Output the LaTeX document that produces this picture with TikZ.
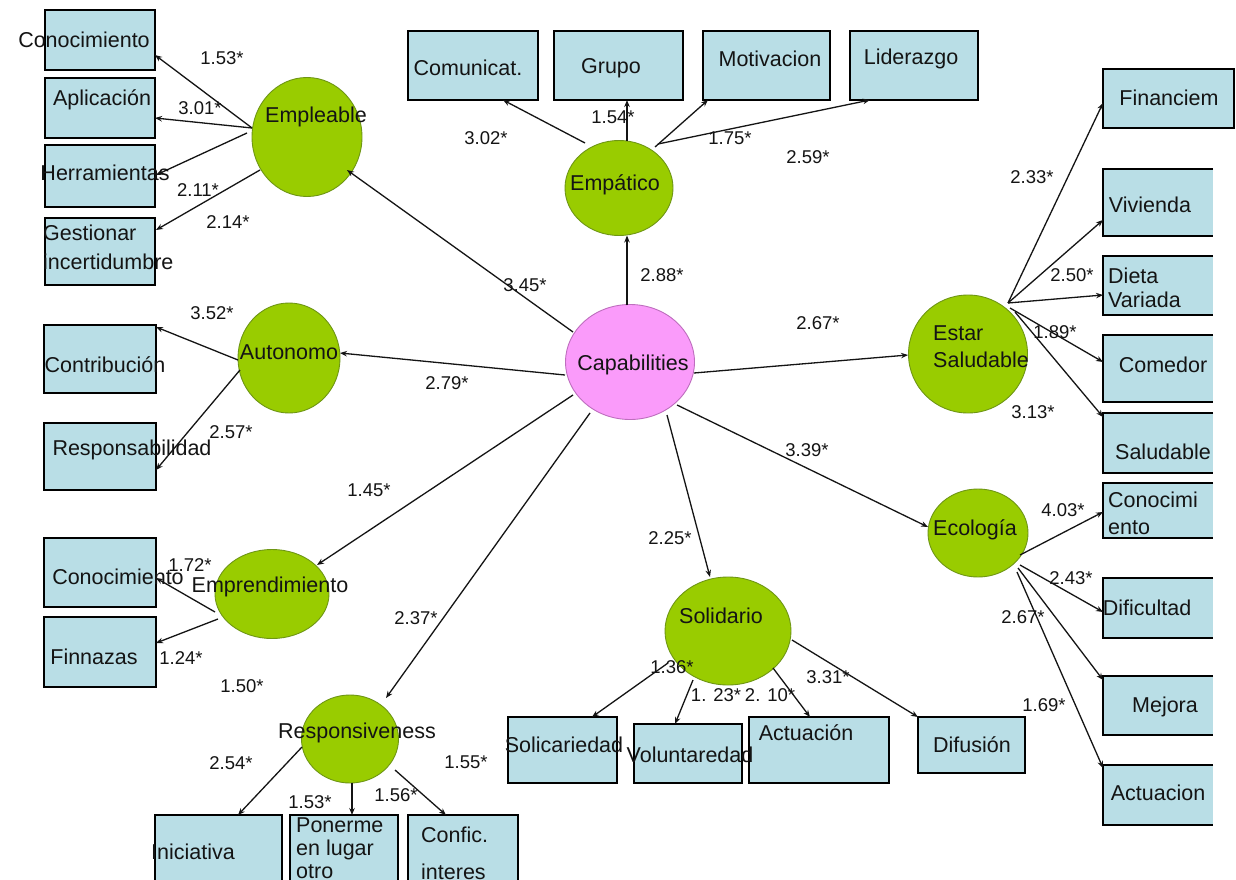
\documentclass[tikz,border=0pt]{standalone}
\usepackage{fontspec}
\setmainfont{Liberation Sans}
\usetikzlibrary{shapes.geometric,arrows.meta}
\definecolor{boxblue}{RGB}{185,222,230}
\definecolor{latgreen}{RGB}{153,204,0}
\definecolor{latborder}{RGB}{110,150,20}
\definecolor{capfill}{RGB}{250,155,250}
\definecolor{capborder}{RGB}{190,110,190}
\definecolor{ink}{RGB}{20,20,20}
\begin{document}
\begin{tikzpicture}[x=1pt,y=-1pt,
  bx/.style={draw=black, line width=1.5pt, fill=boxblue, inner sep=0pt, outer sep=0pt},
  obx/.style={fill=boxblue, inner sep=0pt, outer sep=0pt},
  latst/.style={ellipse, fill=latgreen, draw=latborder, line width=0.9pt, inner sep=0pt, outer sep=0pt},
  capst/.style={ellipse, fill=capfill, draw=capborder, line width=0.9pt, inner sep=0pt, outer sep=0pt},
  txt/.style={font=\fontsize{21.5}{24}\selectfont, text=ink, inner sep=0pt},
  lbl/.style={font=\fontsize{18.5}{20}\selectfont, text=ink, inner sep=0pt},
  arr/.style={draw=ink, line width=1.3pt, -{Stealth[length=7pt,width=5.5pt]}},
  oline/.style={line width=1.5pt, line join=miter}
]
\useasboundingbox (0,0) rectangle (1236,880);
\clip (0,0) rectangle (1236,880);
\fill[white] (0,0) rectangle (1236,880);

% ---------- boxes ----------
\node[bx, minimum width=110, minimum height=60] (con1) at (100,40) {};
\node[bx, minimum width=110, minimum height=60] (apl) at (100,108) {};
\node[bx, minimum width=110, minimum height=62] (her) at (100,176) {};
\node[bx, minimum width=110, minimum height=67] (ges) at (100,251.5) {};
\node[bx, minimum width=130, minimum height=69] (com) at (473,65.5) {};
\node[bx, minimum width=129, minimum height=69] (gru) at (618.5,65.5) {};
\node[bx, minimum width=127, minimum height=69] (mot) at (766.5,65.5) {};
\node[bx, minimum width=128, minimum height=69] (lid) at (914,65.5) {};
\node[bx, minimum width=112, minimum height=68] (contr) at (100,359) {};
\node[bx, minimum width=112, minimum height=67] (bres) at (100,456.5) {};
\node[bx, minimum width=112, minimum height=69] (con2) at (100,572.5) {};
\node[bx, minimum width=112, minimum height=70] (fin) at (100,652) {};
\node[bx, minimum width=127, minimum height=70] (ini) at (218.5,850) {};
\node[bx, minimum width=108, minimum height=70] (pon) at (344,850) {};
\node[bx, minimum width=110, minimum height=70] (conf) at (463,850) {};
\node[bx, minimum width=109, minimum height=66] (sol) at (562.5,750) {};
\node[bx, minimum width=108, minimum height=59] (vol) at (688,753.5) {};
\node[bx, minimum width=140, minimum height=66] (act) at (819,750) {};
\node[bx, minimum width=107, minimum height=56] (dif) at (971.5,745) {};
\node[bx, minimum width=131, minimum height=59] (fi) at (1168.5,98.5) {};
\node[obx, minimum width=110, minimum height=67] (viv) at (1158,202.5) {};
\node[obx, minimum width=110, minimum height=59] (die) at (1158,285.5) {};
\node[obx, minimum width=110, minimum height=67] (com2) at (1158,368.5) {};
\node[obx, minimum width=110, minimum height=60] (sal) at (1158,443) {};
\node[obx, minimum width=110, minimum height=55] (con3) at (1158,510.5) {};
\node[obx, minimum width=110, minimum height=60] (dific) at (1158,608) {};
\node[obx, minimum width=110, minimum height=59] (mej) at (1158,705.5) {};
\node[obx, minimum width=110, minimum height=60] (actu) at (1158,795) {};
\foreach \n in {viv,die,com2,sal,con3,dific,mej,actu}
  \draw[oline] (\n.north east) -- (\n.north west) -- (\n.south west) -- (\n.south east);

% ---------- latent variables ----------
\node[capst, minimum width=129, minimum height=115] (capn) at (630,362) {};
\node[latst, minimum width=110, minimum height=119] (empl) at (307,137) {};
\node[latst, minimum width=108, minimum height=95] (empa) at (619,188) {};
\node[latst, minimum width=102, minimum height=110] (auto) at (289,358) {};
\node[latst, minimum width=114, minimum height=89] (empr) at (272,594) {};
\node[latst, minimum width=97, minimum height=88] (resp) at (350,739) {};
\node[latst, minimum width=126, minimum height=108] (soli) at (728,631) {};
\node[latst, minimum width=100, minimum height=88] (eco) at (978,533) {};
\node[latst, minimum width=119, minimum height=118] (estar) at (968,354) {};

% ---------- connectors ----------
% Empleable
\draw[arr] ([shift={(-55,-9)}]empl.center) -- ([shift={(55,15)}]con1.center);
\draw[arr] ([shift={(-55,-9)}]empl.center) -- ([shift={(55,10)}]apl.center);
\draw[arr] ([shift={(-60,-4)}]empl.center) -- ([shift={(56,-1)}]her.center);
\draw[arr] ([shift={(-47,33)}]empl.center) -- ([shift={(56,-21.5)}]ges.center);
% Empatico
\draw[arr] ([shift={(-34,-45)}]empa.center) -- ([shift={(30,34.5)}]com.center);
\draw[arr] ([shift={(8,-47.5)}]empa.center) -- ([shift={(8.5,34.5)}]gru.center);
\draw[arr] ([shift={(36,-41)}]empa.center) -- ([shift={(-58.5,34.5)}]mot.center);
\draw[arr] ([shift={(39,-44)}]empa.center) -- ([shift={(-44,34.5)}]lid.center);
% Capabilities
\draw[arr] ([shift={(-3,-57)}]capn.center) -- ([shift={(8,47.5)}]empa.center);
\draw[arr] ([shift={(-57,-30)}]capn.center) -- ([shift={(40,33)}]empl.center);
\draw[arr] ([shift={(-65,13)}]capn.center) -- ([shift={(51,-5)}]auto.center);
\draw[arr] ([shift={(-57,33)}]capn.center) -- ([shift={(45,-29)}]empr.center);
\draw[arr] ([shift={(-40,51)}]capn.center) -- ([shift={(36,-41)}]resp.center);
\draw[arr] ([shift={(37,53)}]capn.center) -- ([shift={(-18,-54)}]soli.center);
\draw[arr] ([shift={(47,43)}]capn.center) -- ([shift={(-50,-6)}]eco.center);
\draw[arr] ([shift={(64,11)}]capn.center) -- ([shift={(-60,1)}]estar.center);
% Autonomo
\draw[arr] ([shift={(-51,2)}]auto.center) -- ([shift={(56,-32)}]contr.center);
\draw[arr] ([shift={(-49,12)}]auto.center) -- ([shift={(56,13.5)}]bres.center);
% Emprendimiento
\draw[arr] ([shift={(-57,18)}]empr.center) -- ([shift={(56,5.5)}]con2.center);
\draw[arr] ([shift={(-54,25)}]empr.center) -- ([shift={(56,-9)}]fin.center);
% Responsiveness
\draw[arr] ([shift={(-48,8)}]resp.center) -- ([shift={(19.5,-35)}]ini.center);
\draw[arr] ([shift={(2,44)}]resp.center) -- ([shift={(8,-35)}]pon.center);
\draw[arr] ([shift={(45,31)}]resp.center) -- ([shift={(-17,-35)}]conf.center);
% Solidario
\draw[arr] ([shift={(-60,32)}]soli.center) -- ([shift={(29.5,-33)}]sol.center);
\draw[arr] ([shift={(-35,49)}]soli.center) -- ([shift={(-13,-29.5)}]vol.center);
\draw[arr] ([shift={(45,37)}]soli.center) -- ([shift={(-9,-33)}]act.center);
\draw[arr] ([shift={(64,9)}]soli.center) -- ([shift={(-53.5,-28)}]dif.center);
% Ecologia
\draw[arr] ([shift={(42,22)}]eco.center) -- ([shift={(-55,1.5)}]con3.center);
\draw[arr] ([shift={(42,32)}]eco.center) -- ([shift={(-55,4)}]dific.center);
\draw[arr] ([shift={(40,35)}]eco.center) -- ([shift={(-55,-25.5)}]mej.center);
\draw[arr] ([shift={(39,39)}]eco.center) -- ([shift={(-55,-27)}]actu.center);
% Estar saludable
\draw[arr] ([shift={(40,-51)}]estar.center) -- ([shift={(-65.5,4.5)}]fi.center);
\draw[arr] ([shift={(40,-51)}]estar.center) -- ([shift={(-55,17.5)}]viv.center);
\draw[arr] ([shift={(40,-51)}]estar.center) -- ([shift={(-55,9.5)}]die.center);
\draw[arr] ([shift={(42,-46)}]estar.center) -- ([shift={(-55,-6.5)}]com2.center);
\draw[arr] ([shift={(47,-42)}]estar.center) -- ([shift={(-55,-26)}]sal.center);

% ---------- texts ----------
\node[txt] (t1) at (84,40) {Conocimiento};
\node[txt] (t2) at (102,100) {Aplicación};
\node[txt] (t3) at (105,173) {Herramientas};
\node[txt, font=\fontsize{21.5}{29}\selectfont, align=left, anchor=west] (t4) at (43,247.5) {Gestionar\\incertidumbre};
\node[txt] (t5) at (468,68) {Comunicat.};
\node[txt] (t6) at (611,68) {Grupo};
\node[txt] (t7) at (770,59) {Motivacion};
\node[txt] (t8) at (911,59) {Liderazgo};
\node[txt] (t9) at (615,185) {Empático};
\node[txt] (t10) at (316,117) {Empleable};
\node[txt] (t11) at (633,365) {Capabilities};
\node[txt] (t12) at (289,352) {Autonomo};
\node[txt] (t13) at (105,365) {Contribución};
\node[txt] (t14) at (132,450) {Responsabilidad};
\node[txt] (t15) at (118,577) {Conocimiento};
\node[txt] (t16) at (270,587) {Emprendimiento};
\node[txt] (t17) at (94,657) {Finnazas};
\node[txt] (t18) at (357,733) {Responsiveness};
\node[txt] (t19) at (193,852) {Iniciativa};
\node[txt, font=\fontsize{21.5}{23}\selectfont, align=left, anchor=west] (t20) at (296,848) {Ponerme\\en lugar\\otro};
\node[txt, font=\fontsize{21.5}{37}\selectfont, align=left, anchor=west] (t21) at (421,853.5) {Confic.\\interes};
\node[txt] (t22) at (564,745) {Solicariedad};
\node[txt] (t23) at (690,755) {Voluntaredad};
\node[txt] (t24) at (806,733) {Actuación};
\node[txt] (t25) at (972,745) {Difusión};
\node[txt] (t26) at (721,616) {Solidario};
\node[txt] (t27) at (975,530) {Ecología};
\node[txt, font=\fontsize{21.5}{27}\selectfont, align=left, anchor=west] (t28) at (1108,513.5) {Conocimi\\ento};
\node[txt] (t29) at (1147,608) {Dificultad};
\node[txt] (t30) at (1165,707) {Mejora};
\node[txt] (t31) at (1158,793) {Actuacion};
\node[txt] (t32) at (1169,98) {Financiem};
\node[txt] (t33) at (1150,205) {Vivienda};
\node[txt, font=\fontsize{21.5}{24}\selectfont, align=left, anchor=west] (t34) at (1108,288) {Dieta\\Variada};
\node[txt] (t35) at (1163,365) {Comedor};
\node[txt] (t36) at (1163,452) {Saludable};
\node[txt, font=\fontsize{21.5}{27}\selectfont, align=left, anchor=west] (t37) at (933,346.5) {Estar\\Saludable};

% ---------- coefficients ----------
\node[lbl] (l1) at (222,58) {1.53*};
\node[lbl] (l2) at (200,108) {3.01*};
\node[lbl] (l3) at (198,190) {2.11*};
\node[lbl] (l4) at (228,222) {2.14*};
\node[lbl] (l5) at (486,138) {3.02*};
\node[lbl] (l6) at (613,117) {1.54*};
\node[lbl] (l7) at (730,138) {1.75*};
\node[lbl] (l8) at (808,157) {2.59*};
\node[lbl] (l9) at (662,275) {2.88*};
\node[lbl] (l10) at (525,285) {3.45*};
\node[lbl] (l11) at (818,323) {2.67*};
\node[lbl] (l12) at (447,383) {2.79*};
\node[lbl] (l13) at (807,450) {3.39*};
\node[lbl] (l14) at (212,313) {3.52*};
\node[lbl] (l15) at (231,432) {2.57*};
\node[lbl] (l16) at (369,490) {1.45*};
\node[lbl] (l17) at (190,565) {1.72*};
\node[lbl] (l18) at (181,658) {1.24*};
\node[lbl] (l19) at (242,686) {1.50*};
\node[lbl] (l20) at (416,618) {2.37*};
\node[lbl] (l21) at (231,763) {2.54*};
\node[lbl] (l22) at (310,802) {1.53*};
\node[lbl] (l23) at (396,795) {1.56*};
\node[lbl] (l24) at (466,762) {1.55*};
\node[lbl] (l25) at (670,538) {2.25*};
\node[lbl] (l26) at (672,667) {1.36*};
\node[lbl] (l27) at (716,695) {1. 23*};
\node[lbl] (l28) at (770,695) {2. 10*};
\node[lbl] (l29) at (828,677) {3.31*};
\node[lbl] (l30) at (1063,510) {4.03*};
\node[lbl] (l31) at (1071,578) {2.43*};
\node[lbl] (l32) at (1023,617) {2.67*};
\node[lbl] (l33) at (1044,705) {1.69*};
\node[lbl] (l34) at (1032,177) {2.33*};
\node[lbl] (l35) at (1072,275) {2.50*};
\node[lbl] (l36) at (1055,332) {1.89*};
\node[lbl] (l37) at (1033,412) {3.13*};
\end{tikzpicture}
\end{document}
